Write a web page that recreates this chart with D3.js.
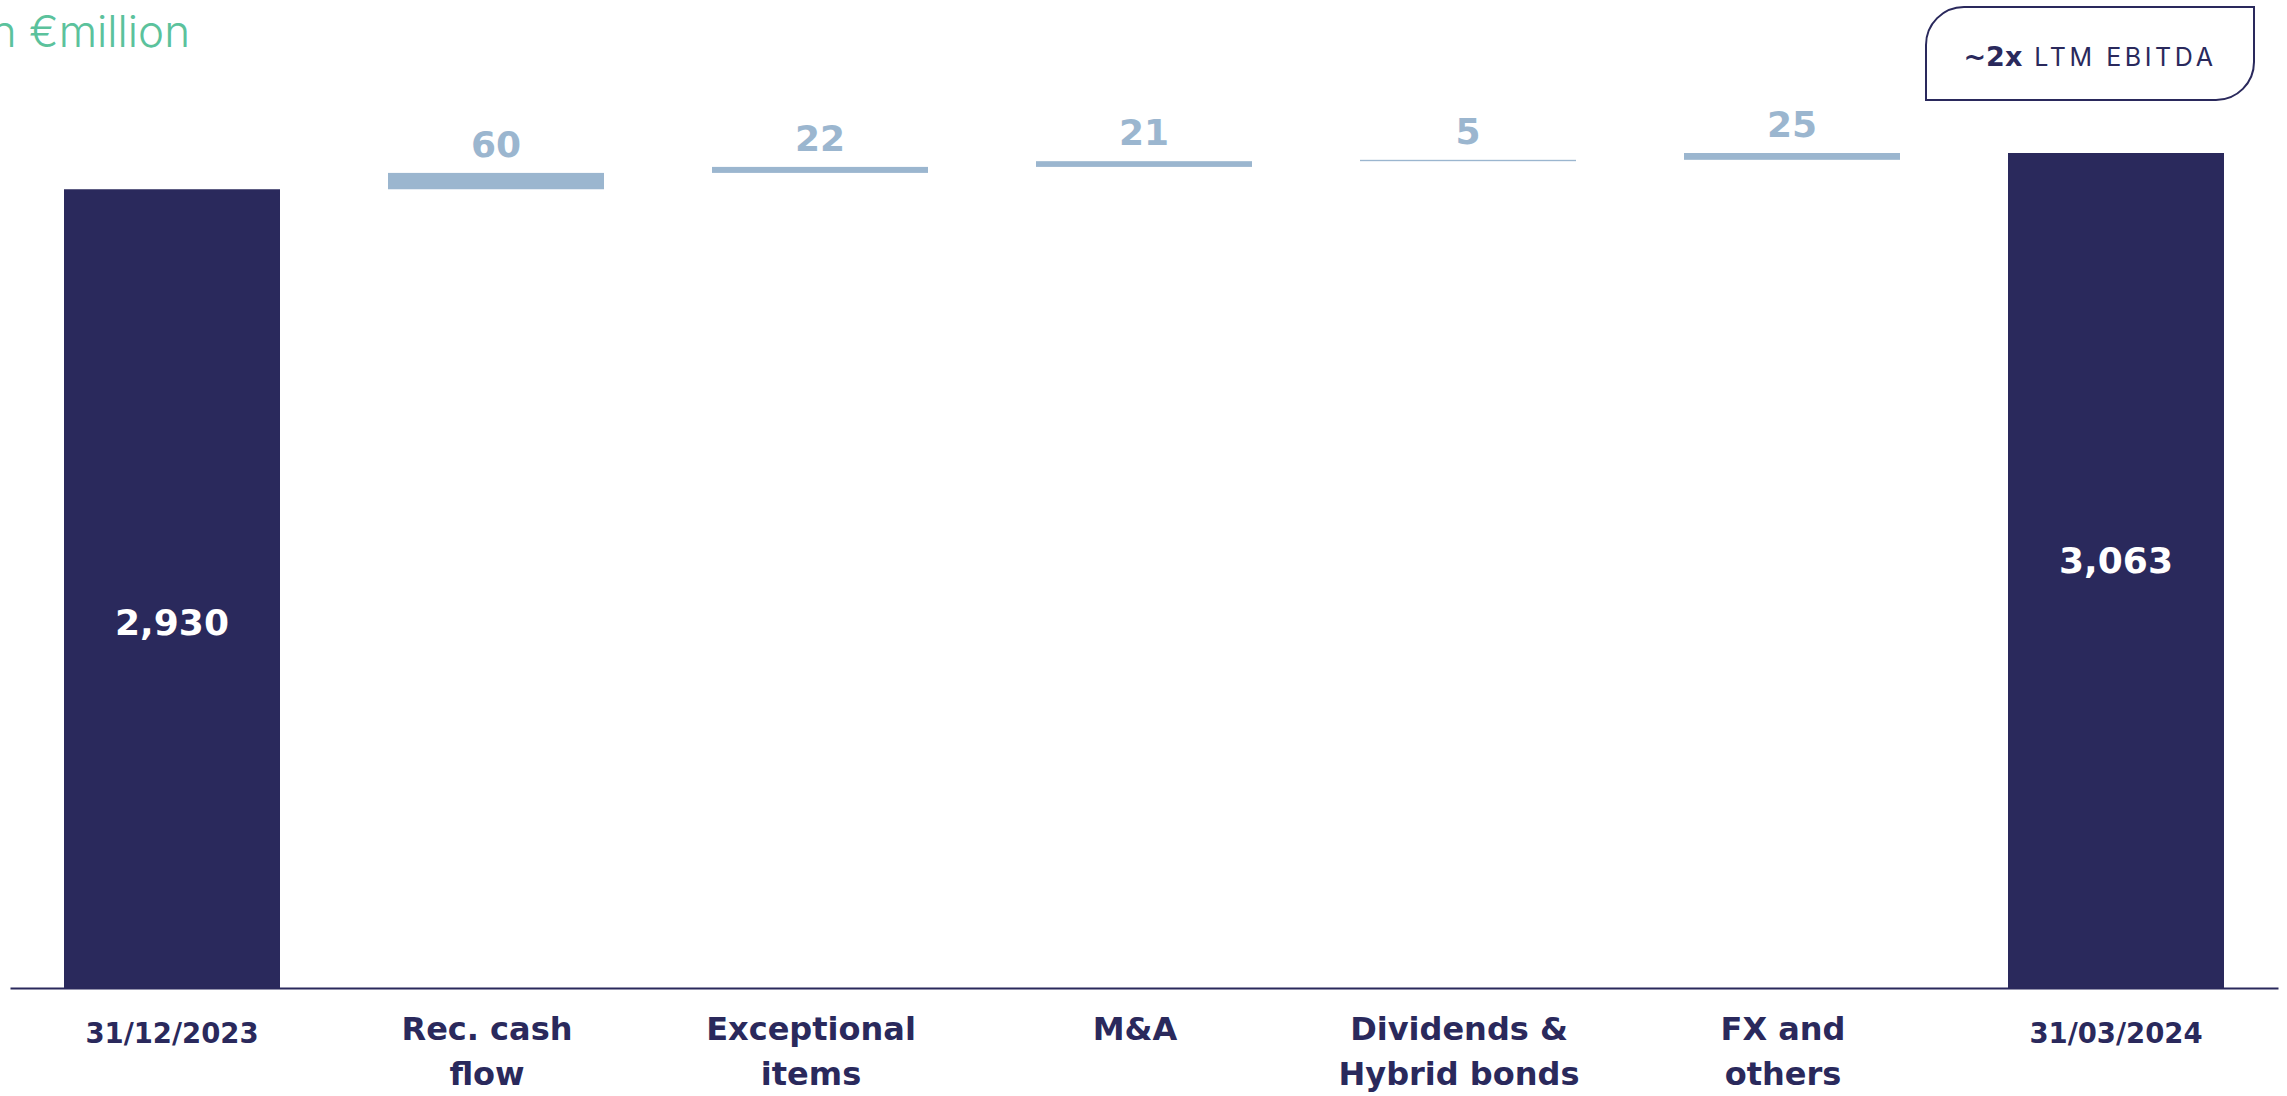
<!DOCTYPE html>
<html>
<head>
<meta charset="utf-8">
<script src="https://cdn.jsdelivr.net/npm/d3@7"></script>
<style>
  body { margin: 0; background: #fff; }
  svg { display: block; font-family: Inter, "Noto Sans", sans-serif; }
  .heavy { font-family: "DejaVu Sans", sans-serif; font-weight: 700; }
</style>
</head>
<body>
<div id="chart"></div>
<script>
// data
const categories = ["31/12/2023", "Rec. cash flow", "Exceptional items", "M&A", "Dividends & Hybrid bonds", "FX and others", "31/03/2024"];
const labelLines = [["31/12/2023"], ["Rec. cash", "flow"], ["Exceptional", "items"], ["M&A"], ["Dividends &", "Hybrid bonds"], ["FX and", "others"], ["31/03/2024"]];
const kinds = ["total", "step", "step", "step", "step", "step", "total"];
const values = [2930, 60, 22, 21, 5, 25, 3063];
const valueLabels = ["2,930", "60", "22", "21", "5", "25", "3,063"];
const unitTitle = "in €million";
const badgeBold = "~2x";
const badgeText = "LTM EBITDA";

const W = 2287, H = 1096;
const navy = "#2a295c";
const stepBlue = "#9bb6cf";
const green = "#5bc29c";

// build waterfall rows
function buildRows() {
  let run = 0;
  return categories.map((c, i) => {
    let y0, y1;
    if (kinds[i] === "total") {
      y0 = 0; y1 = values[i]; run = values[i];
    } else {
      y0 = run; y1 = run + values[i]; run = y1;
    }
    return { cat: c, kind: kinds[i], y0, y1, label: valueLabels[i], lines: labelLines[i] };
  });
}

function createScales(rows) {
  const xScale = d3.scaleBand()
    .domain(categories)
    .range([10, 2278])
    .paddingInner(1 / 3)
    .paddingOuter(1 / 6);

  const yScale = d3.scaleLinear()
    .domain([0, d3.max(rows, (d) => d.y1)])
    .range([988, 153]);

  return { xScale, yScale };
}

function createSvg() {
  return d3.select("#chart")
    .append("svg")
    .attr("width", W)
    .attr("height", H);
}

function drawBars(svg, rows, xScale, yScale) {
  svg.append("g")
    .selectAll("rect")
    .data(rows)
    .enter()
    .append("rect")
    .attr("x", (d) => xScale(d.cat))
    .attr("width", xScale.bandwidth())
    .attr("y", (d) => yScale(d.y1))
    .attr("height", (d) => Math.max(1.3, yScale(d.y0) - yScale(d.y1)))
    .style("fill", (d) => (d.kind === "total" ? navy : stepBlue));

  // step values above the bars
  svg.append("g")
    .selectAll("text")
    .data(rows.filter((d) => d.kind === "step"))
    .enter()
    .append("text")
    .attr("class", "heavy")
    .attr("x", (d) => xScale(d.cat) + xScale.bandwidth() / 2)
    .attr("y", (d) => yScale(d.y1) - 16)
    .attr("text-anchor", "middle")
    .style("font-size", "36px")
    .style("fill", stepBlue)
    .text((d) => d.label);

  // total values inside the dark bars (where the original puts them)
  const totalLabelFrac = [0.442, 0.497];
  svg.append("g")
    .selectAll("text")
    .data(rows.filter((d) => d.kind === "total"))
    .enter()
    .append("text")
    .attr("class", "heavy")
    .attr("x", (d) => xScale(d.cat) + xScale.bandwidth() / 2)
    .attr("y", (d, i) => yScale(d.y1 * totalLabelFrac[i]))
    .attr("text-anchor", "middle")
    .style("font-size", "36px")
    .style("fill", "#fff")
    .text((d) => d.label);
}

function addAxis(svg, rows, xScale) {
  const xAxis = d3.axisBottom(xScale).tickSize(0).tickPadding(0);
  const g = svg.append("g").attr("transform", "translate(0, 988)").call(xAxis);
  g.select(".domain").attr("stroke", navy).attr("stroke-width", 2);
  g.selectAll(".tick text").remove();

  g.selectAll(".tick")
    .data(rows)
    .append("text")
    .attr("class", "heavy")
    .attr("text-anchor", "middle")
    .style("fill", navy)
    .style("font-size", (d) => (d.kind === "total" ? "27.5px" : "32px"))
    .each(function (d) {
      const t = d3.select(this);
      const total = d.kind === "total";
      d.lines.forEach((line, j) => {
        t.append("tspan")
          .attr("x", total ? 0 : -9)
          .attr("y", (total ? 55 : 52) + j * 45)
          .text(line);
      });
    });
}

function addTitle(svg) {
  const style = (s) => s.style("font-size", "44px").style("font-weight", "300");
  const t = svg.append("text")
    .attr("y", 47)
    .style("fill", green)
    .call(style)
    .text(unitTitle);
  // the "in " is clipped by the left edge in the original
  const probe = svg.append("text").call(style).text("€million");
  const pre = t.node().getComputedTextLength() - probe.node().getComputedTextLength();
  probe.remove();
  t.attr("x", 29 - pre);
}

function addBadge(svg) {
  const x0 = 1926, y0 = 7, x1 = 2254, y1 = 100, r = 38;
  const p = d3.path();
  p.moveTo(x0, y1);
  p.lineTo(x0, y0 + r);
  p.arcTo(x0, y0, x0 + r, y0, r);
  p.lineTo(x1, y0);
  p.lineTo(x1, y1 - r);
  p.arcTo(x1, y1, x1 - r, y1, r);
  p.closePath();
  svg.append("path")
    .attr("d", p.toString())
    .attr("fill", "none")
    .attr("stroke", navy)
    .attr("stroke-width", 2);

  const t = svg.append("text")
    .attr("x", (x0 + x1) / 2)
    .attr("y", 66)
    .attr("text-anchor", "middle")
    .style("fill", navy);
  t.append("tspan").attr("class", "heavy").style("font-size", "27px").text(badgeBold);
  t.append("tspan")
    .attr("dx", 12)
    .style("font-size", "25px")
    .style("font-weight", "400")
    .style("letter-spacing", "3.6px")
    .text(badgeText);
}

const rows = buildRows();
const { xScale, yScale } = createScales(rows);
const svg = createSvg();
drawBars(svg, rows, xScale, yScale);
addAxis(svg, rows, xScale);
addTitle(svg);
addBadge(svg);
</script>
</body>
</html>
